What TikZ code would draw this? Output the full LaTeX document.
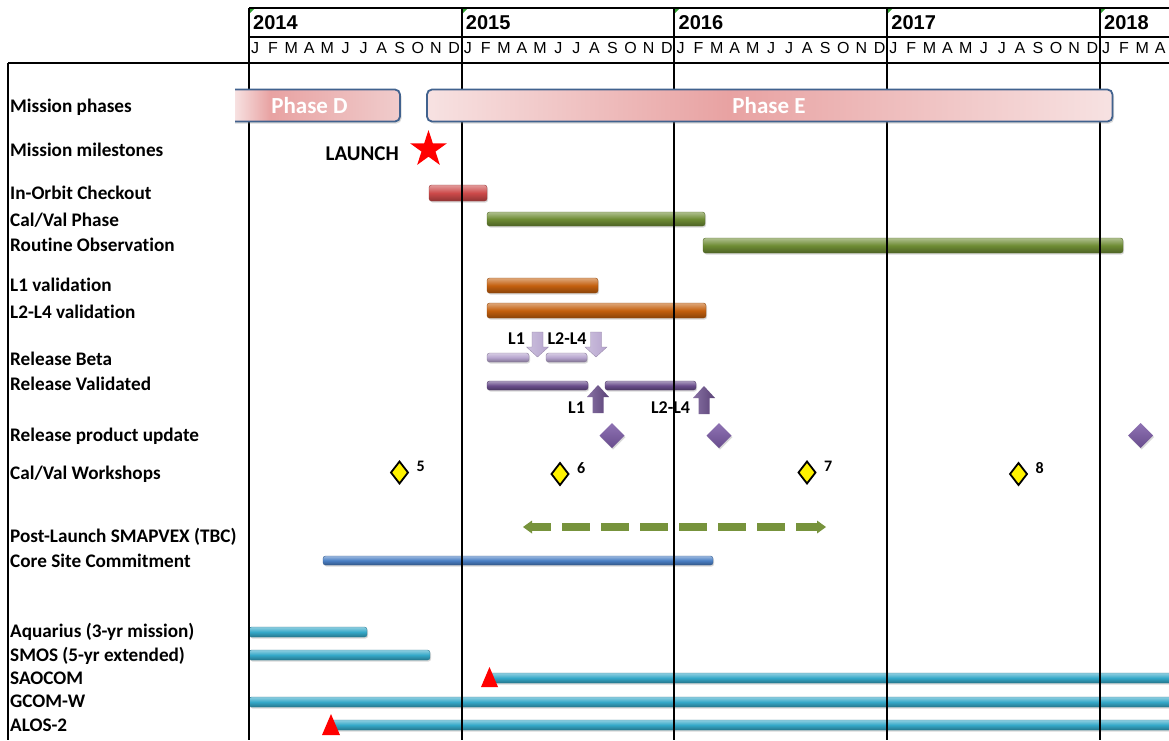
\documentclass[tikz,border=0pt]{standalone}
\usepackage{fontspec}
\setmainfont{Carlito}[Ligatures={NoCommon}]
\newfontfamily\arialfont{Liberation Sans}
\usetikzlibrary{shapes.geometric,shadows}
\definecolor{phlight}{HTML}{F7E2E2}
\definecolor{phdark}{HTML}{E8A2A2}
\definecolor{phmid}{HTML}{F0CCCC}
\definecolor{phborder}{HTML}{41628E}
\definecolor{cred}{HTML}{CC4A4A}
\definecolor{cgreen}{HTML}{6E8C34}
\definecolor{corange}{HTML}{C4600E}
\definecolor{clpurple}{HTML}{B6A4CE}
\definecolor{cdpurple}{HTML}{6A4E8C}
\definecolor{cpurple}{HTML}{7B5AA6}
\definecolor{cblue}{HTML}{4A7FC4}
\definecolor{ccyan}{HTML}{35A8C8}
\definecolor{smgreen}{HTML}{77933C}
\definecolor{xlgreen}{HTML}{2E9E2E}
\pgfdeclarehorizontalshading{phaseDshade}{100bp}{color(0bp)=(phlight); color(29bp)=(phlight); color(39bp)=(phdark); color(75bp)=(phmid); color(100bp)=(phmid)}
\pgfdeclarehorizontalshading{phaseEshade}{100bp}{color(0bp)=(phlight); color(25bp)=(phlight); color(47bp)=(phdark); color(75bp)=(phlight); color(100bp)=(phlight)}
\begin{document}
\begin{tikzpicture}[x=1pt, y=-1pt,
  lbl/.style={anchor=base west, inner sep=0pt, font=\bfseries\fontsize{19.2}{21}\selectfont},
  small/.style={anchor=base, inner sep=0pt, font=\bfseries\fontsize{18}{20}\selectfont},
  num/.style={anchor=base west, inner sep=0pt, font=\bfseries\fontsize{16}{17}\selectfont},
  gbar/.style={rounded corners=2.5pt, top color=#1!55!white, bottom color=#1!70!black, middle color=#1, draw=#1!75!black, line width=0.4pt, drop shadow={opacity=0.3, shadow xshift=1pt, shadow yshift=-1.5pt}},
  phasebar/.style={rounded corners=5pt, draw=phborder, line width=1.8pt, drop shadow={opacity=0.3, shadow xshift=1.5pt, shadow yshift=-2pt}},
  gridline/.style={line width=1.6pt, black},
  ws/.style={fill=yellow, draw=black, line width=1.8pt, line join=miter},
  upd/.style={top color=cpurple!85!white, bottom color=cpurple!85!black, drop shadow={opacity=0.3, shadow xshift=1pt, shadow yshift=-1.5pt}},
  arrlight/.style={left color=clpurple!70!white, right color=clpurple, draw=clpurple!80!black, line width=0.3pt},
  arrdark/.style={left color=cdpurple!80!white, right color=cdpurple!85!black},
  pics/downarr/.style={code={\path[#1] (-5.5,-25) -- (5.5,-25) -- (5.5,-10) -- (11,-10) -- (0,0) -- (-11,-10) -- (-5.5,-10) -- cycle;}},
  pics/uparr/.style={code={\path[#1] (0,0) -- (11,12) -- (5.5,12) -- (5.5,28) -- (-5.5,28) -- (-5.5,12) -- (-11,12) -- cycle;}},
  yrlbl/.style={anchor=base west, inner sep=0pt, font=\arialfont\bfseries\fontsize{20}{20}\selectfont},
  molbl/.style={anchor=base, inner sep=0pt, font=\arialfont\fontsize{16}{16}\selectfont}
]
\useasboundingbox (0,0) rectangle (1169,740);
\fill[white] (0,0) rectangle (1169,740);

% ---- gantt bars ----
\path[gbar=cred] (429,185) rectangle (487,201);
\path[gbar=cgreen] (487,212) rectangle (705,226);
\path[gbar=cgreen] (703,238) rectangle (1123,253);
\path[gbar=corange] (487,278) rectangle (598,293);
\path[gbar=corange] (487,303) rectangle (706,318);
\path[gbar=clpurple] (487,353) rectangle (529,362);
\path[gbar=clpurple] (546,353) rectangle (587,362);
\path[gbar=cdpurple] (487,381) rectangle (588,390);
\path[gbar=cdpurple] (605,381) rectangle (696,390);
\path[gbar=cblue] (323,556) rectangle (713,565);

% release arrows
\pic at (537.5,357) {downarr=arrlight};
\pic at (596,357) {downarr=arrlight};
\pic at (598,385) {uparr=arrdark};
\pic at (704,386) {uparr=arrdark};
\node[small] (b1) at (516.5,344) {L1};
\node[small] (b2) at (567,344) {L2-L4};
\node[small] (v1) at (576.5,413.3) {L1};
\node[small] (v2) at (670.5,413.3) {L2-L4};

% product update diamonds
\foreach \cx in {612,719,1140.5}
  \path[upd] (\cx,423) -- (\cx+12.5,435.5) -- (\cx,448) -- (\cx-12.5,435.5) -- cycle;

% workshops
\foreach \cx/\cy/\n in {399.5/472.5/5, 560/474/6, 807/472.5/7, 1018.5/474/8}{
  \path[ws] (\cx,\cy-11) -- (\cx+8.5,\cy) -- (\cx,\cy+11) -- (\cx-8.5,\cy) -- cycle;
  \node[num] (w\n) at (\cx+17,\cy-1) {\n};
}

% SMAPVEX dashed arrow
\draw[smgreen, line width=8pt, dash pattern=on 28pt off 11pt, dash phase=8pt] (531,527) -- (818,527);
\fill[smgreen] (523,527) -- (532,520.5) -- (532,533.5) -- cycle;
\fill[smgreen] (826,527) -- (817,520.5) -- (817,533.5) -- cycle;

% satellites
\path[gbar=ccyan] (249,627) rectangle (367,637);
\path[gbar=ccyan] (249,650) rectangle (430,660);
\path[gbar=ccyan] (489,673) rectangle (1175,683);
\path[gbar=ccyan] (249,697) rectangle (1175,707);
\path[gbar=ccyan] (331,720) rectangle (1175,730);
\fill[red] (481,687) -- (498,687) -- (489.5,667) -- cycle;
\fill[red] (322,735) -- (340,735) -- (331,714) -- cycle;

% launch
\node[star, star points=5, star point ratio=2.618, fill=red, minimum size=38.6pt, inner sep=0pt] (star) at (428.5,149.3) {};
\node[anchor=base east, inner sep=0pt, font=\bfseries\fontsize{21}{22}\selectfont] (launch) at (399,160) {LAUNCH};

% ---- grid ----
\foreach \gx in {249,462,674,887,1100}{
  \draw[gridline] (\gx,8) -- (\gx,740);
  \fill[xlgreen] (\gx+1,9) -- (\gx+5,9) -- (\gx+1,13) -- cycle;
}
\draw[gridline] (249,8) -- (1169,8);
\draw[gridline] (249,37) -- (1169,37);
\draw[gridline] (8,63) -- (1169,63);
\draw[gridline] (8,63) -- (8,740);

% ---- phase bars ----
\begin{scope}
  \clip (235,80) rectangle (430,130);
  \shadedraw[phasebar, shading=phaseDshade] (220,89.5) rectangle (400,121.5);
\end{scope}
\shadedraw[phasebar, shading=phaseEshade] (427,89.5) rectangle (1112.5,121.5);
\node[anchor=base, inner sep=0pt, text=white, font=\bfseries\fontsize{23}{24}\selectfont] (phD) at (309.5,113) {Phase D};
\node[anchor=base, inner sep=0pt, text=white, font=\bfseries\fontsize{23}{24}\selectfont] (phE) at (769,113) {Phase E};

% ---- header text ----
\foreach \yr [count=\k from 0] in {2014,2015,2016,2017,2018}{
  \pgfmathsetmacro\xo{249+212.75*\k}
  \node[yrlbl] (yr\yr) at (\xo+4,29) {\yr};
}
\foreach \k in {0,1,2,3}{
  \pgfmathsetmacro\xo{249+212.75*\k}
  \foreach \m/\l in {0/J,1/F,2/M,3/A,4/M,5/J,6/J,7/A,8/S,9/O,10/N,11/D}{
    \node[molbl] (mo-\k-\m) at (\xo+6+18.1*\m,53) {\l};
  }
}
\foreach \m/\l in {0/J,1/F,2/M,3/A}{
  \node[molbl] (mo-4-\m) at (1106+18.1*\m,53) {\l};
}

% ---- row labels ----
\node[lbl] (lp) at (10,112.7) {Mission phases};
\node[lbl] (lm) at (10,156) {Mission milestones};
\node[lbl] (lioc) at (10,199.3) {In-Orbit Checkout};
\node[lbl] (lcv) at (10,226) {Cal/Val Phase};
\node[lbl] (lro) at (10,251.7) {Routine Observation};
\node[lbl] (ll1) at (10,291.7) {L1 validation};
\node[lbl] (ll2) at (10,318.3) {L2-L4 validation};
\node[lbl] (lrb) at (10,365) {Release Beta};
\node[lbl] (lrv) at (10,390.5) {Release Validated};
\node[lbl] (lrp) at (10,441.5) {Release product update};
\node[lbl] (lws) at (10,479.3) {Cal/Val Workshops};
\node[lbl] (lsv) at (10,542.7) {Post-Launch SMAPVEX (TBC)};
\node[lbl] (lcs) at (10,567.7) {Core Site Commitment};
\node[lbl] (laq) at (10,637) {Aquarius (3-yr mission)};
\node[lbl] (lsm) at (10,661) {SMOS (5-yr extended)};
\node[lbl] (lsa) at (10,684) {SAOCOM};
\node[lbl] (lgc) at (10,707) {GCOM-W};
\node[lbl] (lal) at (10,731) {ALOS-2};
\end{tikzpicture}
\end{document}
